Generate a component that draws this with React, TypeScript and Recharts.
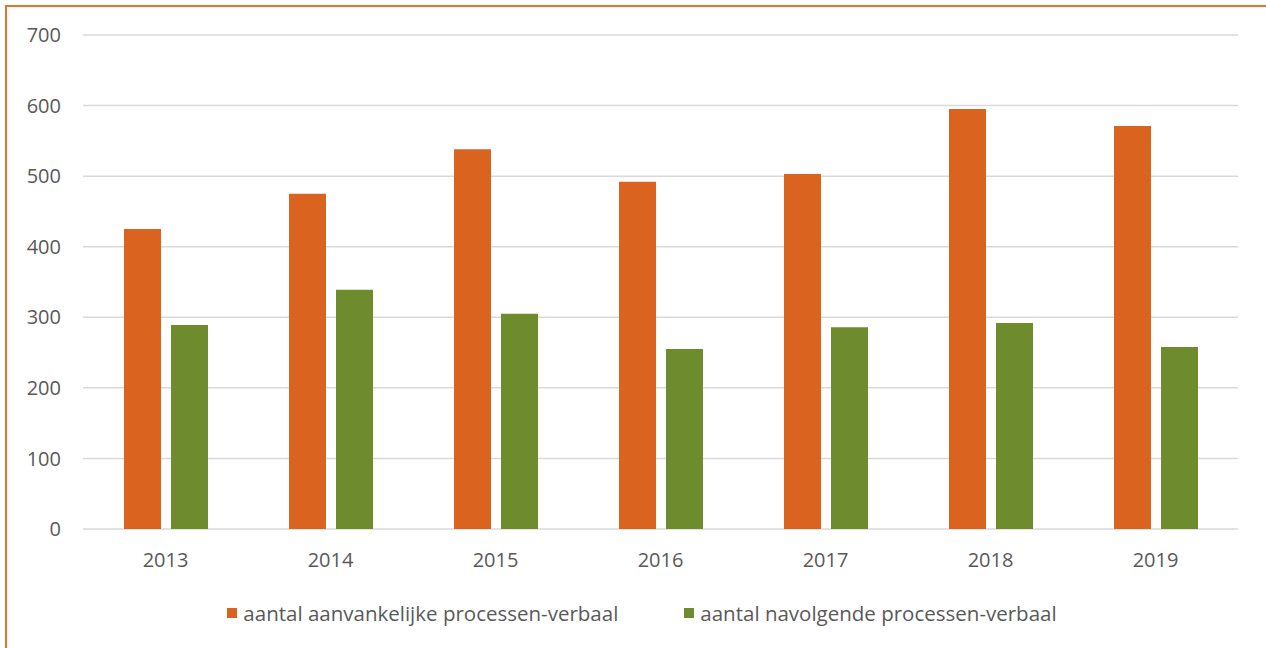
import { BarChart, Bar, XAxis, YAxis, CartesianGrid, Legend } from 'recharts';

const years = ['2013', '2014', '2015', '2016', '2017', '2018', '2019'];
const aanvankelijk = [425, 475, 538, 492, 503, 595, 571];
const navolgend = [289, 339, 305, 255, 286, 292, 258];
const yTicks = [0, 100, 200, 300, 400, 500, 600, 700];

const ORANGE = '#D9631F';
const GREEN = '#6E8B2E';
const FONT = '"Open Sans", sans-serif';

const data = years.map((year, i) => ({
  year,
  aanvankelijk: aanvankelijk[i],
  navolgend: navolgend[i],
}));

function LegendContent({ payload }: any) {
  return (
    <div
      style={{
        display: 'flex',
        justifyContent: 'center',
        gap: 66,
        marginLeft: 46,
        fontFamily: FONT,
        fontSize: 20.5,
        color: '#595959',
        lineHeight: '28px',
      }}
    >
      {(payload || []).map((p: any) => (
        <div key={p.value} style={{ display: 'flex', alignItems: 'center' }}>
          <span style={{ width: 10, height: 10, background: p.color, marginRight: 6, display: 'inline-block' }} />
          <span>{p.value}</span>
        </div>
      ))}
    </div>
  );
}

export default function App() {
  return (
    <div style={{ position: 'fixed', left: 0, top: 0, width: 1266, height: 648, background: '#fff' }}>
      <div
        style={{
          position: 'absolute',
          left: 5,
          top: 5,
          right: 0,
          bottom: 0,
          borderLeft: '2px solid #E8712B',
          borderTop: '2px solid #E8712B',
        }}
      />
      <BarChart
        width={1266}
        height={648}
        data={data}
        margin={{ top: 35, right: 28, bottom: 19, left: 0 }}
        barSize={37}
        barGap={10}
      >
        <CartesianGrid vertical={false} stroke="#D9D9D9" strokeWidth={1.5} />
        <XAxis
          dataKey="year"
          axisLine={false}
          tickLine={false}
          tickMargin={18}
          height={70}
          tick={{ fill: '#595959', fontSize: 20, fontFamily: FONT }}
        />
        <YAxis
          width={83}
          domain={[0, 700]}
          ticks={yTicks}
          axisLine={false}
          tickLine={false}
          tickMargin={16}
          tick={{ fill: '#595959', fontSize: 20, fontFamily: FONT }}
        />
        <Legend verticalAlign="bottom" height={30} content={<LegendContent />} />
        <Bar dataKey="aanvankelijk" name="aantal aanvankelijke processen-verbaal" fill={ORANGE} isAnimationActive={false} />
        <Bar dataKey="navolgend" name="aantal navolgende processen-verbaal" fill={GREEN} isAnimationActive={false} />
      </BarChart>
    </div>
  );
}
